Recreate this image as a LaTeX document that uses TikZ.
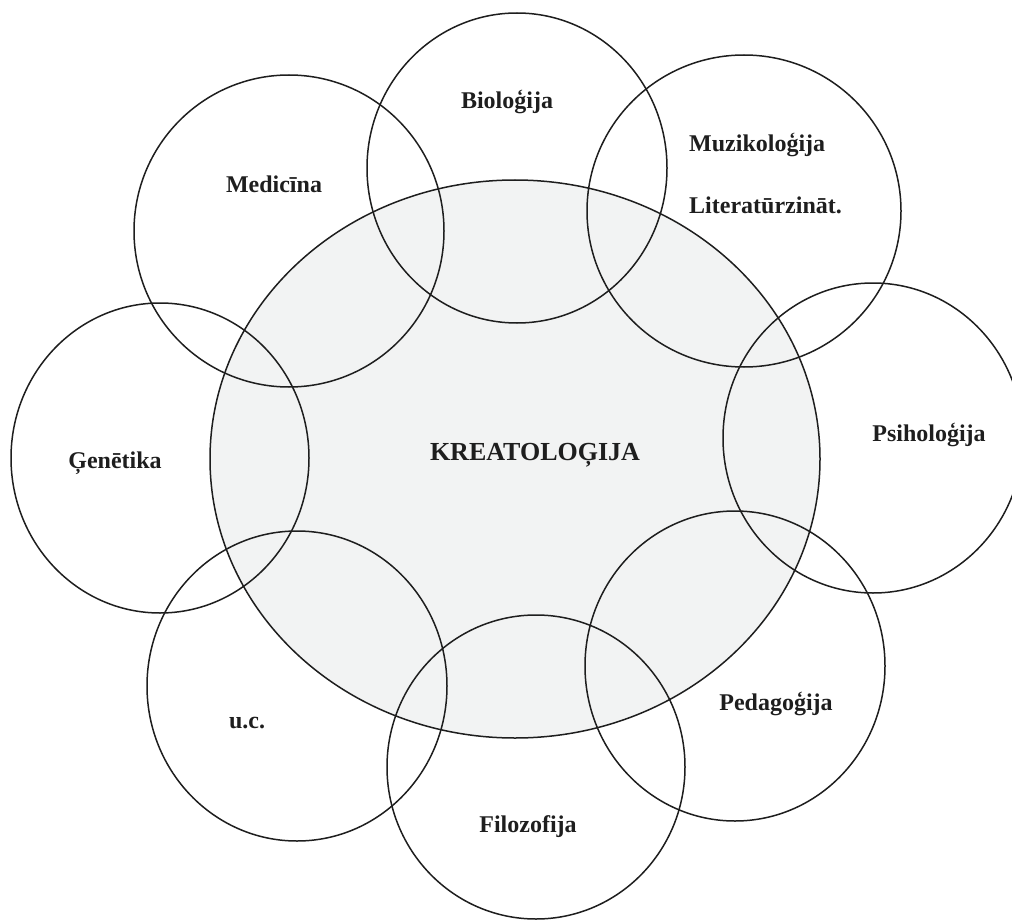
\documentclass[tikz,border=0pt]{standalone}
\usepackage{fontspec}
\setmainfont{Liberation Serif}
\definecolor{corefill}{RGB}{242,243,243}
\definecolor{inkline}{RGB}{30,30,30}
\begin{document}
\begin{tikzpicture}[x=1pt,y=-1pt,
  ring/.style={draw=inkline, line width=1.5pt},
  lbl/.style={font=\bfseries\fontsize{24}{28}\selectfont, text=inkline, inner sep=0pt},
  corelbl/.style={font=\bfseries\fontsize{26}{30}\selectfont, text=inkline, inner sep=0pt},
]
\useasboundingbox (0,0) rectangle (1012,920);

% central field
\draw[ring, fill=corefill] (515,459) ellipse [x radius=305, y radius=279];

% neighbouring disciplines
\draw[ring] (289,231) ellipse [x radius=155, y radius=156]; % medicine
\draw[ring] (517,168) ellipse [x radius=150, y radius=155]; % biology
\draw[ring] (744,211) ellipse [x radius=157, y radius=156]; % musicology
\draw[ring] (873,438) ellipse [x radius=150, y radius=155]; % psychology
\draw[ring] (735,666) ellipse [x radius=150, y radius=155]; % pedagogy
\draw[ring] (536,767) ellipse [x radius=149, y radius=152]; % philosophy
\draw[ring] (297,686) ellipse [x radius=150, y radius=155]; % others
\draw[ring] (160,458) ellipse [x radius=149, y radius=155]; % genetics

% labels
\node[corelbl] (kre) at (535,455) {KREATOLOĢIJA};
\node[lbl] (med) at (274,184) {Medicīna};
\node[lbl] (bio) at (507,102) {Bioloģija};
\node[lbl, anchor=west] (muz) at (689,145) {Muzikoloģija};
\node[lbl, anchor=west] (lit) at (689,205) {Literatūrzināt.};
\node[lbl] (psi) at (929,435) {Psiholoģija};
\node[lbl] (ped) at (776,704) {Pedagoģija};
\node[lbl] (fil) at (528,827) {Filozofija};
\node[lbl] (uc) at (247,723) {u.c.};
\node[lbl] (gen) at (115,463) {Ģenētika};
\end{tikzpicture}
\end{document}
